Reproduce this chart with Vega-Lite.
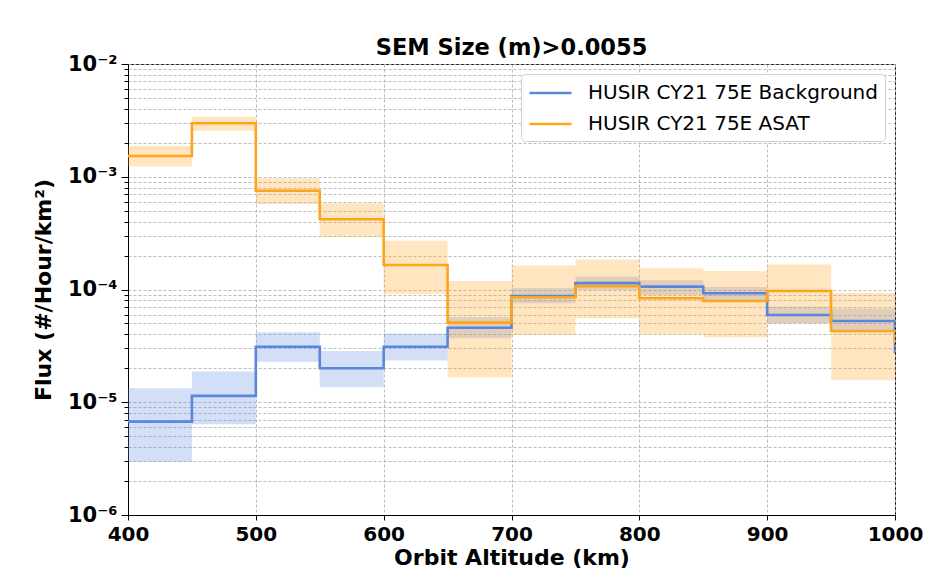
{
  "$schema": "https://vega.github.io/schema/vega-lite/v6.json",
  "width": 767,
  "height": 451,
  "autosize": {"type": "none"},
  "padding": {"left": 128, "top": 64, "right": 45, "bottom": 73},
  "background": "white",
  "title": {
    "text": "SEM Size (m)>0.0055",
    "font": "DejaVu Sans",
    "fontSize": 22.5,
    "fontWeight": "bold",
    "color": "black",
    "anchor": "middle",
    "offset": -6
  },
  "data": {
    "values": [
      {"series": "HUSIR CY21 75E Background", "alt": 400, "flux": 6.73e-6, "lo": 2.97e-6, "hi": 1.33e-5},
      {"series": "HUSIR CY21 75E Background", "alt": 450, "flux": 1.14e-5, "lo": 6.37e-6, "hi": 1.87e-5},
      {"series": "HUSIR CY21 75E Background", "alt": 500, "flux": 3.11e-5, "lo": 2.29e-5, "hi": 4.17e-5},
      {"series": "HUSIR CY21 75E Background", "alt": 550, "flux": 2.0e-5, "lo": 1.36e-5, "hi": 2.85e-5},
      {"series": "HUSIR CY21 75E Background", "alt": 600, "flux": 3.11e-5, "lo": 2.34e-5, "hi": 4.08e-5},
      {"series": "HUSIR CY21 75E Background", "alt": 650, "flux": 4.58e-5, "lo": 3.69e-5, "hi": 5.67e-5},
      {"series": "HUSIR CY21 75E Background", "alt": 700, "flux": 8.75e-5, "lo": 7.55e-5, "hi": 1.03e-4},
      {"series": "HUSIR CY21 75E Background", "alt": 750, "flux": 1.14e-4, "lo": 9.9e-5, "hi": 1.30e-4},
      {"series": "HUSIR CY21 75E Background", "alt": 800, "flux": 1.06e-4, "lo": 8.94e-5, "hi": 1.21e-4},
      {"series": "HUSIR CY21 75E Background", "alt": 850, "flux": 9.25e-5, "lo": 7.8e-5, "hi": 1.05e-4},
      {"series": "HUSIR CY21 75E Background", "alt": 900, "flux": 5.94e-5, "lo": 5.01e-5, "hi": 7.03e-5},
      {"series": "HUSIR CY21 75E Background", "alt": 950, "flux": 5.26e-5, "lo": 4.23e-5, "hi": 6.8e-5},
      {"series": "HUSIR CY21 75E Background", "alt": 1000, "flux": 2.72e-5, "lo": 4.23e-5, "hi": 6.8e-5},
      {"series": "HUSIR CY21 75E ASAT", "alt": 400, "flux": 1.53e-3, "lo": 1.23e-3, "hi": 1.87e-3},
      {"series": "HUSIR CY21 75E ASAT", "alt": 450, "flux": 2.98e-3, "lo": 2.56e-3, "hi": 3.41e-3},
      {"series": "HUSIR CY21 75E ASAT", "alt": 500, "flux": 7.52e-4, "lo": 5.7e-4, "hi": 9.7e-4},
      {"series": "HUSIR CY21 75E ASAT", "alt": 550, "flux": 4.2e-4, "lo": 2.94e-4, "hi": 5.82e-4},
      {"series": "HUSIR CY21 75E ASAT", "alt": 600, "flux": 1.65e-4, "lo": 9.12e-5, "hi": 2.71e-4},
      {"series": "HUSIR CY21 75E ASAT", "alt": 650, "flux": 5.08e-5, "lo": 1.66e-5, "hi": 1.19e-4},
      {"series": "HUSIR CY21 75E ASAT", "alt": 700, "flux": 8.53e-5, "lo": 3.95e-5, "hi": 1.63e-4},
      {"series": "HUSIR CY21 75E ASAT", "alt": 750, "flux": 1.07e-4, "lo": 5.56e-5, "hi": 1.85e-4},
      {"series": "HUSIR CY21 75E ASAT", "alt": 800, "flux": 8.36e-5, "lo": 4.01e-5, "hi": 1.54e-4},
      {"series": "HUSIR CY21 75E ASAT", "alt": 850, "flux": 7.9e-5, "lo": 3.77e-5, "hi": 1.46e-4},
      {"series": "HUSIR CY21 75E ASAT", "alt": 900, "flux": 9.7e-5, "lo": 5.01e-5, "hi": 1.67e-4},
      {"series": "HUSIR CY21 75E ASAT", "alt": 950, "flux": 4.29e-5, "lo": 1.57e-5, "hi": 9.37e-5},
      {"series": "HUSIR CY21 75E ASAT", "alt": 1000, "flux": 3.33e-5, "lo": 1.57e-5, "hi": 9.37e-5}
    ]
  },
  "encoding": {
    "x": {
      "field": "alt",
      "type": "quantitative",
      "scale": {"domain": [400, 1000], "nice": false, "zero": false},
      "axis": {
        "title": "Orbit Altitude (km)",
        "values": [400, 500, 600, 700, 800, 900, 1000],
        "format": "d",
        "labelFlush": false,
        "labelOverlap": false,
        "tickSize": 5,
        "labelPadding": 4,
        "titlePadding": 3
      }
    },
    "color": {
      "field": "series",
      "type": "nominal",
      "scale": {
        "domain": ["HUSIR CY21 75E Background", "HUSIR CY21 75E ASAT"],
        "range": ["#5a87dd", "#ffa41b"]
      },
      "legend": {"title": null}
    }
  },
  "layer": [
    {
      "mark": {
        "type": "area",
        "interpolate": "step-after",
        "fillOpacity": 0.27,
        "strokeOpacity": 0.15,
        "strokeWidth": 1,
        "clip": true
      },
      "encoding": {
        "y": {
          "field": "hi",
          "type": "quantitative",
          "scale": {"type": "log", "domain": [1e-6, 1e-2], "nice": false},
          "axis": {
            "title": "Flux (#/Hour/km²)",
            "values": [1e-6, 2e-6, 3e-6, 4e-6, 5e-6, 6e-6, 7e-6, 8e-6, 9e-6,
                       1e-5, 2e-5, 3e-5, 4e-5, 5e-5, 6e-5, 7e-5, 8e-5, 9e-5,
                       1e-4, 2e-4, 3e-4, 4e-4, 5e-4, 6e-4, 7e-4, 8e-4, 9e-4,
                       1e-3, 2e-3, 3e-3, 4e-3, 5e-3, 6e-3, 7e-3, 8e-3, 9e-3, 1e-2],
            "labelExpr": "abs(log(datum.value)/LN10 - round(log(datum.value)/LN10)) < 0.001 ? '10⁻' + ['⁰','¹','²','³','⁴','⁵','⁶'][-round(log(datum.value)/LN10)] : ''",
            "labelOverlap": false,
            "labelFontSize": 21,
            "tickSize": {"condition": {"test": "abs(log(datum.value)/LN10 - round(log(datum.value)/LN10)) < 0.001", "value": 7}, "value": 4},
            "labelPadding": 4,
            "titlePadding": 12
          }
        },
        "y2": {"field": "lo"}
      }
    },
    {
      "mark": {"type": "line", "interpolate": "step-after", "strokeWidth": 2.6, "clip": true},
      "encoding": {
        "y": {"field": "flux", "type": "quantitative"}
      }
    }
  ],
  "config": {
    "font": "DejaVu Sans",
    "view": {"stroke": "black", "strokeWidth": 1},
    "axis": {
      "domainColor": "black",
      "domainWidth": 1,
      "tickColor": "black",
      "tickWidth": 1,
      "labelFont": "DejaVu Sans",
      "labelFontSize": 20,
      "labelFontWeight": "bold",
      "labelColor": "black",
      "titleFont": "DejaVu Sans",
      "titleFontSize": 22,
      "titleFontWeight": "bold",
      "titleColor": "black",
      "grid": true,
      "gridColor": "#b5b5b5",
      "gridWidth": 0.9,
      "gridDash": [3, 2]
    },
    "legend": {
      "orient": "top-right",
      "offset": 10,
      "fillColor": "white",
      "strokeColor": "#d0d0d0",
      "cornerRadius": 4,
      "padding": 7,
      "symbolType": "M-1,0H3",
      "symbolSize": 441,
      "symbolStrokeWidth": 2.4,
      "symbolOpacity": 1,
      "labelFont": "DejaVu Sans",
      "labelFontSize": 20,
      "labelColor": "black",
      "labelOffset": 36,
      "labelLimit": 400,
      "rowPadding": 9
    }
  }
}
